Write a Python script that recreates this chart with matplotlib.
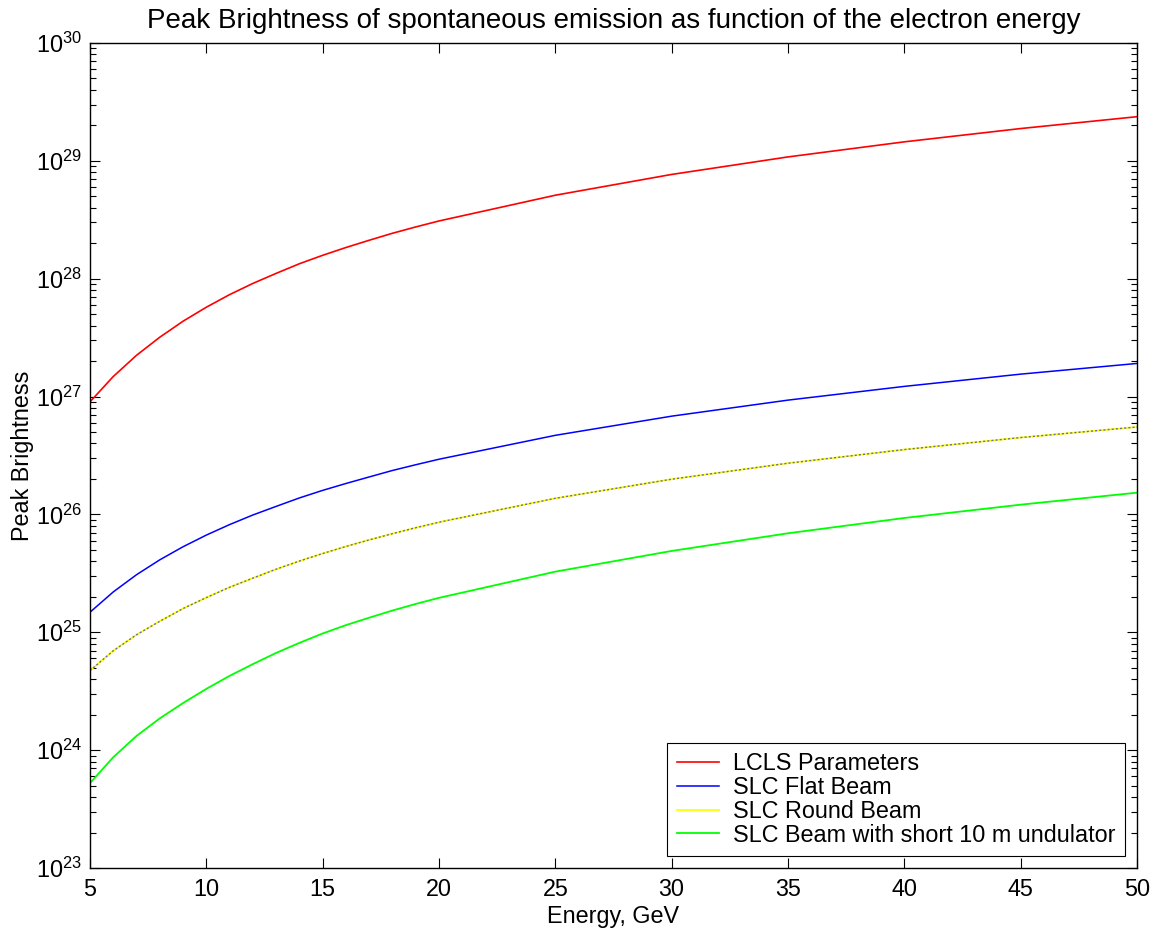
import matplotlib
matplotlib.use('Agg')
import matplotlib.pyplot as plt
from matplotlib.ticker import NullFormatter, FixedLocator, LogFormatterSciNotation

plt.rcParams['font.family'] = ['Liberation Sans', 'DejaVu Sans']
plt.rcParams['mathtext.default'] = 'regular'

# electron energy, GeV
energy = [5, 6, 7, 8, 9, 10, 11, 12, 13, 14, 15, 16, 17, 18, 19, 20,
          25, 30, 35, 40, 45, 50]

# peak brightness
lcls = [9.02e26, 1.48e27, 2.24e27, 3.19e27, 4.36e27, 5.73e27, 7.33e27, 9.12e27,
        1.11e28, 1.34e28, 1.58e28, 1.84e28, 2.12e28, 2.43e28, 2.75e28, 3.09e28,
        5.11e28, 7.67e28, 1.08e29, 1.45e29, 1.88e29, 2.37e29]
slc_flat = [1.48e25, 2.20e25, 3.08e25, 4.12e25, 5.32e25, 6.68e25, 8.20e25, 9.89e25,
            1.17e26, 1.38e26, 1.60e26, 1.83e26, 2.08e26, 2.36e26, 2.64e26, 2.94e26,
            4.69e26, 6.82e26, 9.33e26, 1.22e27, 1.55e27, 1.91e27]
slc_round = [4.73e24, 6.97e24, 9.53e24, 1.24e25, 1.59e25, 1.97e25, 2.41e25, 2.88e25,
             3.43e25, 4.02e25, 4.66e25, 5.35e25, 6.08e25, 6.87e25, 7.71e25, 8.59e25,
             1.37e26, 1.99e26, 2.72e26, 3.55e26, 4.49e26, 5.52e26]
slc_short = [5.25e23, 8.71e23, 1.32e24, 1.86e24, 2.51e24, 3.31e24, 4.27e24, 5.37e24,
             6.68e24, 8.13e24, 9.77e24, 1.15e25, 1.33e25, 1.53e25, 1.74e25, 1.96e25,
             3.27e25, 4.90e25, 6.92e25, 9.33e25, 1.21e26, 1.53e26]

labels = ['LCLS Parameters', 'SLC Flat Beam', 'SLC Round Beam',
          'SLC Beam with short 10 m undulator']
x_ticks = [5, 10, 15, 20, 25, 30, 35, 40, 45, 50]
y_decades = [23, 24, 25, 26, 27, 28, 29, 30]


def plot_brightness(filename: str = 'out.png') -> None:
    """Log plot of spontaneous emission peak brightness vs electron energy."""
    W, H = 1156, 934
    fig = plt.figure(figsize=(W / 100, H / 100), dpi=100)
    ax = fig.add_axes([90 / W, 1 - 868 / H, (1137 - 90) / W, (868 - 43) / H])

    fs = 16.8
    ax.plot(energy, lcls, color='red', lw=1.2, label=labels[0])
    ax.plot(energy, slc_flat, color='blue', lw=1.1, label=labels[1])
    ax.plot(energy, slc_round, color='yellow', lw=1.3, label=labels[2])
    # the round beam curve shows a dark dashed trace on top of the yellow
    ax.plot(energy, slc_round, color='#6f6f8f', lw=1.0, dashes=(1.5, 1.5))
    ax.plot(energy, slc_short, color='#00ff00', lw=1.3, label=labels[3])

    ax.set_yscale('log')
    ax.set_xlim(5, 50)
    ax.set_ylim(1e23, 1e30)
    ax.xaxis.set_major_locator(FixedLocator(x_ticks))
    major = [10.0 ** d for d in y_decades]
    minor = [k * 10.0 ** d for d in y_decades[:-1] for k in range(2, 10)]
    ax.yaxis.set_major_locator(FixedLocator(major))
    ax.yaxis.set_major_formatter(LogFormatterSciNotation())
    ax.yaxis.set_minor_locator(FixedLocator(minor))
    ax.yaxis.set_minor_formatter(NullFormatter())

    ax.tick_params(which='both', direction='in', top=True, right=True,
                   width=0.8, colors='black', labelsize=fs)
    ax.tick_params(which='major', length=7.2)
    ax.tick_params(which='minor', length=4.5)
    ax.tick_params(axis='x', pad=7)
    ax.tick_params(axis='y', pad=6)
    for sp in ax.spines.values():
        sp.set_linewidth(1.0)
        sp.set_color('black')

    ax.set_title('Peak Brightness of spontaneous emission as function of the electron energy',
                 fontsize=20, pad=11)
    ax.set_xlabel('Energy, GeV', fontsize=fs, labelpad=3)
    ax.set_ylabel('Peak Brightness', fontsize=fs, labelpad=1)

    leg = ax.legend(loc='lower right', fontsize=fs, fancybox=False, framealpha=1,
                    edgecolor='black', borderaxespad=0.5, borderpad=0.42,
                    labelspacing=0.03, handlelength=1.8, handletextpad=0.6)
    leg.get_frame().set_linewidth(0.8)

    plt.savefig(filename, dpi=100, facecolor='white')
    plt.close()
    print(f"Saved {filename}")


if __name__ == '__main__':
    plot_brightness('out.png')
